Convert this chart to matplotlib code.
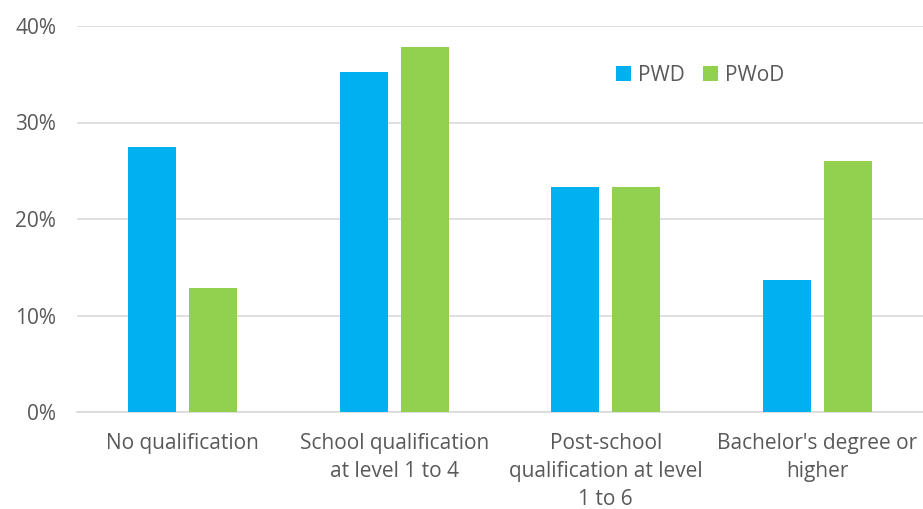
import matplotlib
matplotlib.use("Agg")
import matplotlib.pyplot as plt
import numpy as np
from matplotlib.ticker import PercentFormatter

categories = ["No qualification", "School qualification\nat level 1 to 4",
              "Post-school\nqualification at level\n1 to 6", "Bachelor's degree or\nhigher"]
pwd = [27.5, 35.2, 23.3, 13.7]
pwod = [12.8, 37.8, 23.3, 26.0]
series_names = ["PWD", "PWoD"]
colors = ["#00B0F0", "#92D050"]

plt.rcParams['font.family'] = ['Open Sans', 'DejaVu Sans']
text_color = "#595959"

fig = plt.figure(figsize=(9.23, 5.09), dpi=100)
ax = fig.add_axes([77/923, 1 - 412/509, (923-77)/923, (412-26)/509])

x = np.arange(len(categories))
w = 0.227
off = 0.144
ax.bar(x - off, pwd, width=w, color=colors[0], label=series_names[0], zorder=3)
ax.bar(x + off, pwod, width=w, color=colors[1], label=series_names[1], zorder=3)

ax.set_xlim(-0.5, len(categories) - 0.5)
ax.set_ylim(0, 40)
ax.set_yticks([0, 10, 20, 30, 40])
ax.yaxis.set_major_formatter(PercentFormatter(decimals=0))
ax.grid(axis='y', color='#d9d9d9', linewidth=1.2, zorder=0)
ax.set_xticks(x)
ax.set_xticklabels(categories, fontsize=15, color=text_color, linespacing=1.45)
ax.tick_params(axis='y', labelsize=15, labelcolor=text_color, length=0, pad=15)
ax.tick_params(axis='x', length=0, pad=15)
for s in ['top', 'right', 'left']:
    ax.spines[s].set_visible(False)
ax.spines['bottom'].set_color('#d9d9d9')
ax.spines['bottom'].set_linewidth(1.2)

leg = ax.legend(loc='upper left', bbox_to_anchor=(0.615, 0.948), ncol=2, frameon=False,
                fontsize=15, handlelength=0.7, handleheight=0.7, handletextpad=0.35,
                columnspacing=0.9)
for t in leg.get_texts():
    t.set_color(text_color)

fig.savefig("out.png", dpi=100)
